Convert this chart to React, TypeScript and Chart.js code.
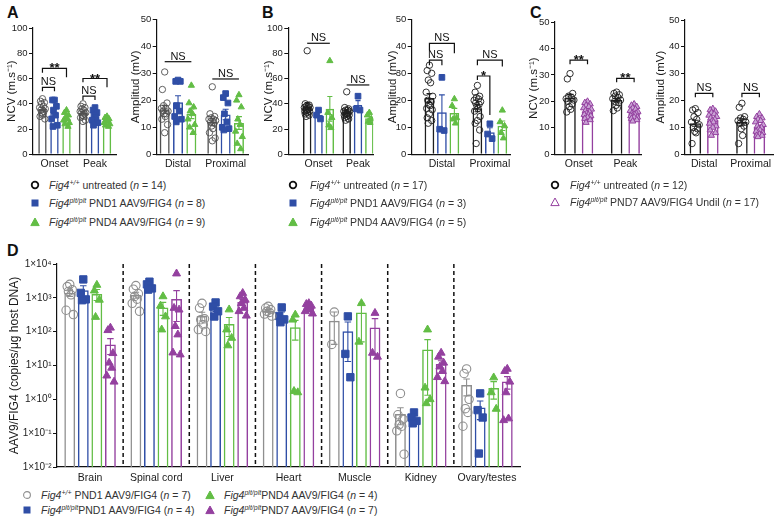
import React, { useEffect, useRef } from "react";
import { Chart, registerables } from "chart.js";

Chart.register(...registerables);

const FONT = "'Liberation Sans', Arial, Helvetica, sans-serif";
Chart.defaults.font.family = FONT;

// ---------------- Categories ----------------
const ncvCategories = ["Onset", "Peak"];
const ampCategories = ["Distal", "Proximal"];
const tissues = ["Brain", "Spinal cord", "Liver", "Heart", "Muscle", "Kidney", "Ovary/testes"];

// ---------------- Panel A (per category: Onset/Peak or Distal/Proximal) ----------------
const aNcvUntreated = [
  [44, 42, 41, 40, 38, 37, 36, 35, 34, 33, 32, 30, 28, 31],
  [40, 38, 37, 36, 35, 34, 33, 33, 32, 31, 30, 29, 27, 26],
];
const aNcvPnd1 = [
  [43, 43, 38, 35, 31, 28, 23, 22],
  [37, 35, 33, 31, 29, 27, 25, 23],
];
const aNcvPnd4 = [
  [35, 33, 31, 29, 28, 27, 25, 24, 22],
  [30, 29, 28, 27, 26, 25, 24, 23, 22],
];
const aAmpUntreated = [
  [30.5, 24, 19, 18, 17, 17, 16, 16, 15, 15, 14, 13, 11, 8],
  [25, 15, 14, 13.5, 13, 13, 12.5, 12, 11.5, 10.5, 9.5, 8, 6, 5],
];
const aAmpPnd1 = [
  [27.5, 27, 27, 18, 16, 14, 13, 12],
  [22.5, 21, 19, 15, 12, 10, 9.5, 9],
];
const aAmpPnd4 = [
  [25.5, 19, 17.5, 16, 15, 13, 11, 10, 8],
  [22, 20, 17.5, 13, 11, 8.5, 6.5, 4, 2],
];

// ---------------- Panel B ----------------
const bNcvUntreated = [
  [82, 40, 39, 38, 38, 37, 37, 36, 36, 35, 35, 34, 34, 33, 32, 31, 30],
  [49.5, 37, 36, 35, 35, 34, 34, 33, 33, 32, 32, 31, 31, 30, 29, 28, 27],
];
const bNcvPnd1 = [
  [35, 31, 28],
  [46, 36, 35],
];
const bNcvPnd4 = [
  [74, 33, 29, 23, 21],
  [33, 31, 28, 26, 25],
];
const bAmpUntreated = [
  [33, 31, 30, 27.5, 26.5, 23, 21.5, 20, 19.5, 18.5, 18, 17, 16.5, 15, 13.5, 12.5, 11.5],
  [25.5, 23, 21.5, 21, 20.5, 20, 19.5, 19, 18.5, 18, 17, 16, 14, 12.5, 11.5, 9, 4],
];
const bAmpPnd1 = [
  [28.5, 9.3, 8.8],
  [11.3, 7.5, 5.8],
];
const bAmpPnd4 = [
  [20.5, 18, 13.5, 13, 11.5],
  [16.3, 12, 10.5, 8, 6],
];

// ---------------- Panel C ----------------
const cNcvUntreated = [
  [30.5, 28.5, 23, 22, 21.5, 21, 20.5, 20, 19, 18, 17, 16],
  [23.5, 23, 22.5, 22, 21.5, 21, 20.5, 20, 19.5, 18.5, 17.5, 16.5],
];
const cNcvPnd7 = [
  [20, 19.5, 19, 18.5, 18, 17.5, 17, 16.5, 16, 15.5, 15, 15, 14.5, 14, 13.5, 13, 12],
  [19, 18.5, 18, 17.5, 17, 16.5, 16, 15.5, 15.5, 15, 15, 14.5, 14, 14, 13.5, 13, 12.5],
];
const cAmpUntreated = [
  [17, 16.5, 15.5, 14, 13, 12, 11, 10, 9.5, 8.5, 8, 4],
  [19, 17.5, 14, 13.5, 13, 12.5, 12, 11.5, 10.5, 9.5, 7, 4],
];
const cAmpPnd7 = [
  [17, 16.5, 16, 15.5, 15, 14.5, 14, 13.5, 13, 12.5, 12, 11.5, 10.5, 10, 9, 8, 7],
  [15, 14, 13.5, 13, 12.5, 12, 11, 10.5, 10, 9.5, 9, 8.5, 8, 7.5, 7, 7, 6.5],
];

// ---------------- Panel D (per tissue) ----------------
const dWtPnd1 = [
  [2500, 2150, 1740, 1550, 1230, 430, 320],
  [2300, 1800, 1320, 1100, 910, 690, 400],
  [690, 500, 240, 225, 160, 115, 102],
  [560, 500, 450, 400, 370, 330, 290],
  [380, 42],
  [1.5, 0.35, 0.26, 0.18, 0.16, 0.117, 0.024],
  [7.9, 5.8, 1.0, 0.53, 0.41, 0.16],
];
const dPltPnd1 = [
  [3500, 1400, 900, 850],
  [3000, 2500, 1900, 1750],
  [730, 550, 400, 280],
  [520, 290, 230, 190],
  [283, 22, 4.5],
  [0.41, 0.29, 0.23, 0.195],
  [1.5, 0.48, 0.29, 0.025],
];
const dPltPnd4 = [
  [2400, 1630, 870, 270],
  [1100, 580, 280, 115],
  [450, 115, 65, 39],
  [316, 225, 1.6, 1.75],
  [690, 50],
  [115, 2.2, 1.0, 0.76],
  [4.4, 1.6, 0.52],
];
const dPltPnd7 = [
  [130, 110, 23, 12, 8.5, 5, 3.3],
  [5200, 500, 445, 145, 82, 24, 21],
  [1380, 1100, 870, 690, 500, 400, 295],
  [690, 650, 580, 500, 445, 400, 340],
  [355, 23.5, 18],
  [23.6, 18, 12, 9.2, 6.8, 4.5, 3.4],
  [7.9, 6.8, 3.3, 1.6, 0.27, 0.24],
];
const logTickValues = [0.01, 0.1, 1, 10, 100, 1000, 10000];
const logTickLabels = ["1×10⁻²", "1×10⁻¹", "1×10⁰", "1×10¹", "1×10²", "1×10³", "1×10⁴"];

// ---------------- Significance annotations ----------------
type Bracket = { cat: number; a: number; b: number; y: number; ya: number; yb: number; text: string };
const aNcvBrackets: Bracket[] = [
  { cat: 0, a: 0, b: 2, y: 68, ya: 64.5, yb: 61, text: "**" },
  { cat: 0, a: 0, b: 1, y: 53, ya: 50, yb: 50, text: "NS" },
  { cat: 1, a: 0, b: 2, y: 60, ya: 57, yb: 53, text: "**" },
  { cat: 1, a: 0, b: 1, y: 46, ya: 43, yb: 43, text: "NS" },
];
const aAmpBrackets: Bracket[] = [
  { cat: 0, a: 0, b: 2, y: 34.3, ya: 34.3, yb: 34.3, text: "NS" },
  { cat: 1, a: 0, b: 2, y: 27.9, ya: 27.9, yb: 27.9, text: "NS" },
];
const bNcvBrackets: Bracket[] = [
  { cat: 0, a: 0, b: 2, y: 87.9, ya: 87.9, yb: 87.9, text: "NS" },
  { cat: 1, a: 0, b: 2, y: 54.9, ya: 54.9, yb: 54.9, text: "NS" },
];
const bAmpBrackets: Bracket[] = [
  { cat: 0, a: 0, b: 2, y: 41.1, ya: 38.6, yb: 37.4, text: "NS" },
  { cat: 0, a: 0, b: 1, y: 34.9, ya: 33, yb: 33, text: "NS" },
  { cat: 1, a: 0, b: 2, y: 34.9, ya: 33, yb: 32.5, text: "NS" },
  { cat: 1, a: 0, b: 1, y: 29, ya: 27.5, yb: 14.6, text: "*" },
];
const cNcvBrackets: Bracket[] = [
  { cat: 0, a: 0, b: 1, y: 35.6, ya: 34, yb: 34, text: "**" },
  { cat: 1, a: 0, b: 1, y: 28.7, ya: 27.2, yb: 27.2, text: "**" },
];
const cAmpBrackets: Bracket[] = [
  { cat: 0, a: 0, b: 1, y: 22.7, ya: 21.2, yb: 21.2, text: "NS" },
  { cat: 1, a: 0, b: 1, y: 22.7, ya: 21.2, yb: 21.2, text: "NS" },
];

// ---------------- Styles ----------------
const GRAY = "#505050";
const BLACK = "#1e1e1e";
const BLUE = "#2f4ea6";
const GREEN = "#62bd45";
const PURPLE = "#94409f";
const PURPLE_LIGHT = "#c9a3d5";
const GRAY_D = "#8f8f8f";
const JITTER = [0, -0.55, 0.55, -0.28, 0.28, -0.8, 0.8, -0.42, 0.42, -0.14, 0.14, -0.68, 0.68, 0, -0.55, 0.55, -0.3];

type Series = {
  data: number[][];
  barColor: string;
  pointStyle: string;
  pointFill: string;
  pointBorder: string;
  radius: number;
  pointBorderWidth?: number;
};

type Spec = {
  rect: [number, number, number, number];
  yAxisW: number;
  xAxisH: number;
  padRight: number;
  xMin: number;
  xMax: number;
  cats: string[];
  series: Series[];
  yType: "linear" | "logarithmic";
  yMin: number;
  yMax: number;
  yStep?: number;
  yTitle: string;
  cp: number;
  bp: number;
  brackets: Bracket[];
  separators?: boolean;
  catFont: number;
  catPad: number;
  tickFont: number;
  titleFont: number;
};

const mean = (a: number[]) => a.reduce((s, v) => s + v, 0) / a.length;
const sem = (a: number[]) => {
  if (a.length < 2) return 0;
  const m = mean(a);
  const v = a.reduce((s, x) => s + (x - m) * (x - m), 0) / (a.length - 1);
  return Math.sqrt(v / a.length);
};

const untreatedABC = (data: number[][], col: string): Series => ({
  data, barColor: col, pointStyle: "circle", pointFill: "rgba(255,255,255,0)", pointBorder: col, radius: 3.2, pointBorderWidth: 0.9,
});
const pnd1ABC = (data: number[][]): Series => ({ data, barColor: BLUE, pointStyle: "rect", pointFill: BLUE, pointBorder: BLUE, radius: 4 });
const pnd4ABC = (data: number[][]): Series => ({ data, barColor: GREEN, pointStyle: "triangle", pointFill: GREEN, pointBorder: GREEN, radius: 3.6 });
const pnd7C = (data: number[][]): Series => ({ data, barColor: PURPLE, pointStyle: "triangle", pointFill: PURPLE_LIGHT, pointBorder: PURPLE, radius: 3.6, pointBorderWidth: 1 });

const NCV_TITLE = "NCV (m.s⁻¹)";
const AMP_TITLE = "Amplitud (mV)";

const base = { xAxisH: 18, padRight: 8, catFont: 10.5, catPad: 3.5, tickFont: 9.5, titleFont: 11.5, yType: "linear" as const, yMin: 0 };

const specs: Spec[] = [
  { ...base, rect: [33, 28, 116.7, 154.3], yAxisW: 33, xMin: -0.53, xMax: 1.536, cats: ncvCategories, yMax: 100, yStep: 20, yTitle: NCV_TITLE, cp: 0.89, bp: 0.7,
    series: [untreatedABC(aNcvUntreated, GRAY), pnd1ABC(aNcvPnd1), pnd4ABC(aNcvPnd4)], brackets: aNcvBrackets },
  { ...base, rect: [156.7, 19.3, 248, 154.3], yAxisW: 33, xMin: -0.448, xMax: 1.47, cats: ampCategories, yMax: 50, yStep: 10, yTitle: AMP_TITLE, cp: 0.84, bp: 0.75,
    series: [untreatedABC(aAmpUntreated, GRAY), pnd1ABC(aAmpPnd1), pnd4ABC(aAmpPnd4)], brackets: aAmpBrackets },
  { ...base, rect: [288.3, 28, 373.3, 154.3], yAxisW: 31, xMin: -0.765, xMax: 1.387, cats: ncvCategories, yMax: 100, yStep: 20, yTitle: NCV_TITLE, cp: 0.86, bp: 0.75,
    series: [untreatedABC(bNcvUntreated, BLACK), pnd1ABC(bNcvPnd1), pnd4ABC(bNcvPnd4)], brackets: bNcvBrackets },
  { ...base, rect: [411.7, 19.3, 510, 154.3], yAxisW: 31, xMin: -0.63, xMax: 1.42, cats: ampCategories, yMax: 50, yStep: 10, yTitle: AMP_TITLE, cp: 0.78, bp: 0.78,
    series: [untreatedABC(bAmpUntreated, BLACK), pnd1ABC(bAmpPnd1), pnd4ABC(bAmpPnd4)], brackets: bAmpBrackets },
  { ...base, rect: [555, 22, 641.7, 154.3], yAxisW: 33, xMin: -0.51, xMax: 1.35, cats: ncvCategories, yMax: 50, yStep: 10, yTitle: NCV_TITLE, cp: 0.75, bp: 0.66,
    series: [untreatedABC(cNcvUntreated, BLACK), pnd7C(cNcvPnd7)], brackets: cNcvBrackets },
  { ...base, rect: [685, 20, 773, 154.3], yAxisW: 36, padRight: 5, xMin: -0.41, xMax: 1.48, cats: ampCategories, yMax: 50, yStep: 10, yTitle: AMP_TITLE, cp: 0.75, bp: 0.66,
    series: [untreatedABC(cAmpUntreated, BLACK), pnd7C(cAmpPnd7)], brackets: cAmpBrackets },
  { ...base, rect: [57, 264, 520, 467], yAxisW: 55, xMin: -0.5, xMax: 6.5, cats: tissues, yType: "logarithmic", yMin: 0.01, yMax: 10000,
    yTitle: "AAV9/FIG4 (copies/μg host DNA)", titleFont: 12, tickFont: 10, catPad: 4.5, cp: 0.82, bp: 0.8, separators: true, brackets: [],
    series: [
      { data: dWtPnd1, barColor: GRAY_D, pointStyle: "circle", pointFill: "rgba(255,255,255,0)", pointBorder: GRAY_D, radius: 4.2, pointBorderWidth: 1.1 },
      { data: dPltPnd1, barColor: BLUE, pointStyle: "rect", pointFill: BLUE, pointBorder: BLUE, radius: 5.2 },
      { data: dPltPnd4, barColor: GREEN, pointStyle: "triangle", pointFill: GREEN, pointBorder: GREEN, radius: 4.6 },
      { data: dPltPnd7, barColor: PURPLE, pointStyle: "triangle", pointFill: PURPLE, pointBorder: PURPLE, radius: 4.6 },
    ] },
];

// ---------------- Plugins ----------------
const errorBarPlugin = {
  id: "errorBars",
  afterDatasetDraw(chart: any, args: any) {
    const ds = chart.data.datasets[args.index];
    if (!ds.sem) return;
    const ctx = chart.ctx;
    const ys = chart.scales.y;
    ctx.save();
    ctx.strokeStyle = ds.borderColor;
    ctx.lineWidth = 1.1;
    args.meta.data.forEach((el: any, i: number) => {
      const s = ds.sem[i];
      if (!s) return;
      const m = ds.data[i].y;
      const cap = el.width * 0.3;
      const top = ys.getPixelForValue(m + s);
      const low = m - s > ys.min ? ys.getPixelForValue(m - s) : null;
      ctx.beginPath();
      ctx.moveTo(el.x, top);
      ctx.lineTo(el.x, low !== null ? low : el.y);
      ctx.moveTo(el.x - cap, top);
      ctx.lineTo(el.x + cap, top);
      if (low !== null) {
        ctx.moveTo(el.x - cap, low);
        ctx.lineTo(el.x + cap, low);
      }
      ctx.stroke();
    });
    ctx.restore();
  },
};

const bracketPlugin = {
  id: "brackets",
  afterDatasetsDraw(chart: any, _args: any, opts: any) {
    const list: Bracket[] = (opts && opts.list) || [];
    const ctx = chart.ctx;
    const ys = chart.scales.y;
    list.forEach((b) => {
      const xa = chart.getDatasetMeta(b.a).data[b.cat].x;
      const xb = chart.getDatasetMeta(b.b).data[b.cat].x;
      const y = ys.getPixelForValue(b.y);
      const ya = ys.getPixelForValue(b.ya);
      const yb = ys.getPixelForValue(b.yb);
      ctx.save();
      ctx.strokeStyle = "#111";
      ctx.lineWidth = 1.2;
      ctx.beginPath();
      ctx.moveTo(xa, ya);
      ctx.lineTo(xa, y);
      ctx.lineTo(xb, y);
      ctx.lineTo(xb, yb);
      ctx.stroke();
      const star = b.text.indexOf("*") >= 0;
      ctx.fillStyle = "#111";
      ctx.font = star ? `bold 13px ${FONT}` : `11px ${FONT}`;
      ctx.textAlign = "center";
      ctx.textBaseline = "alphabetic";
      ctx.fillText(b.text, (xa + xb) / 2, star ? y + 4 : y - 2);
      ctx.restore();
    });
  },
};

const separatorPlugin = {
  id: "separators",
  beforeDatasetsDraw(chart: any, _args: any, opts: any) {
    if (!opts || !opts.count) return;
    const ctx = chart.ctx;
    const { top, bottom } = chart.chartArea;
    ctx.save();
    ctx.strokeStyle = "#111";
    ctx.lineWidth = 1.5;
    ctx.setLineDash([4, 3]);
    for (let i = 0; i < opts.count - 1; i++) {
      const x = chart.scales.x.getPixelForValue(i + 0.5);
      ctx.beginPath();
      ctx.moveTo(x, top);
      ctx.lineTo(x, bottom);
      ctx.stroke();
    }
    ctx.restore();
  },
};

// ---------------- Chart panel ----------------
function ChartPanel({ spec }: { spec: Spec }) {
  const ref = useRef<HTMLCanvasElement>(null);
  const [L, T, R, B] = spec.rect;
  const cLeft = Math.round(L - spec.yAxisW);
  const cTop = Math.round(T - 10);
  const width = Math.round(R + spec.padRight - cLeft);
  const height = Math.round(B + spec.xAxisH - cTop);
  const yW = L - cLeft;
  const padTop = T - cTop;
  const padRight = width - (R - cLeft);
  const xH = height - (B - cTop);

  useEffect(() => {
    const k = spec.series.length;
    const slot = spec.cp / k;
    const barW = slot * spec.bp;
    const datasets: any[] = [];
    spec.series.forEach((s) => {
      datasets.push({
        type: "bar",
        data: s.data.map((pts, i) => ({ x: i, y: mean(pts) })),
        sem: s.data.map(sem),
        backgroundColor: "rgba(255,255,255,0)",
        borderColor: s.barColor,
        borderWidth: 1.5,
        categoryPercentage: spec.cp,
        barPercentage: spec.bp,
        order: 2,
      });
    });
    spec.series.forEach((s, j) => {
      const off = -spec.cp / 2 + (j + 0.5) * slot;
      const pts: { x: number; y: number }[] = [];
      s.data.forEach((arr, i) =>
        arr.forEach((v, n) => pts.push({ x: i + off + JITTER[n % JITTER.length] * barW * 0.42, y: v }))
      );
      datasets.push({
        type: "scatter",
        data: pts,
        pointStyle: s.pointStyle,
        pointRadius: s.radius,
        pointHoverRadius: s.radius,
        pointBackgroundColor: s.pointFill,
        pointBorderColor: s.pointBorder,
        pointBorderWidth: s.pointBorderWidth ?? 1,
        order: 0,
      });
    });

    const yScale: any = {
      type: spec.yType,
      min: spec.yMin,
      max: spec.yMax,
      border: { display: true, color: "#111", width: 1.2 },
      grid: { display: true, drawOnChartArea: false, drawTicks: true, tickLength: 4, color: "#111", lineWidth: 1 },
      ticks: { font: { size: spec.tickFont }, color: "#222", padding: 1.5 },
      title: { display: true, text: spec.yTitle, font: { size: spec.titleFont }, color: "#1a1a1a", padding: { top: 5, bottom: 0 } },
      afterFit: (sc: any) => {
        sc.width = yW;
      },
    };
    if (spec.yType === "logarithmic") {
      yScale.afterBuildTicks = (sc: any) => {
        sc.ticks = logTickValues.map((v) => ({ value: v, major: true }));
      };
      yScale.ticks.callback = (v: number) => {
        const idx = logTickValues.findIndex((t) => Math.abs(t - v) / t < 1e-6);
        return idx >= 0 ? logTickLabels[idx] : "";
      };
      yScale.ticks.autoSkip = false;
    } else {
      yScale.ticks.stepSize = spec.yStep;
    }

    const chart = new Chart(ref.current as HTMLCanvasElement, {
      type: "bar",
      data: { datasets } as any,
      options: {
        responsive: false,
        maintainAspectRatio: false,
        animation: false,
        events: [],
        layout: { padding: { top: padTop, right: padRight, left: 0, bottom: 0 } },
        scales: {
          x: {
            type: "linear",
            min: spec.xMin,
            max: spec.xMax,
            offset: false,
            bounds: "data",
            border: { display: true, color: "#111", width: 1.2 },
            grid: { display: false, drawTicks: false },
            ticks: {
              autoSkip: false,
              maxRotation: 0,
              font: { size: spec.catFont },
              color: "#1a1a1a",
              padding: spec.catPad,
              callback: (v: any) => (spec.cats[v] !== undefined ? spec.cats[v] : ""),
            },
            afterBuildTicks: (sc: any) => {
              sc.ticks = spec.cats.map((_, i) => ({ value: i }));
            },
            afterFit: (sc: any) => {
              sc.height = xH;
            },
          } as any,
          y: yScale,
        },
        plugins: {
          legend: { display: false },
          tooltip: { enabled: false },
          brackets: { list: spec.brackets },
          separators: { count: spec.separators ? spec.cats.length : 0 },
        } as any,
      },
      plugins: [errorBarPlugin, bracketPlugin, separatorPlugin],
    });
    return () => chart.destroy();
  }, []);

  return (
    <canvas
      ref={ref}
      width={width}
      height={height}
      style={{ position: "absolute", left: cLeft, top: cTop, width, height }}
    />
  );
}

// ---------------- Legend helpers ----------------
function Marker({ kind, color, fill }: { kind: string; color: string; fill?: string }) {
  let shape: any = null;
  if (kind === "circle") shape = <circle cx="5" cy="5" r="3.3" fill="none" stroke={color} strokeWidth="1.8" />;
  if (kind === "circleThin") shape = <circle cx="5" cy="5" r="3.4" fill="none" stroke={color} strokeWidth="1.1" />;
  if (kind === "square") shape = <rect x="1.5" y="1.5" width="7" height="7" fill={color} />;
  if (kind === "triangle") shape = <polygon points="5,1 9.2,8.6 0.8,8.6" fill={fill || color} stroke={color} strokeWidth="1" />;
  return (
    <svg width="10" height="10" viewBox="0 0 10 10" style={{ position: "absolute", left: 0, top: 0 }}>
      {shape}
    </svg>
  );
}

const Sup = ({ t }: { t: string }) => (
  <i style={{ fontSize: 7, position: "relative", top: -4, fontWeight: 400 }}>{t}</i>
);

function LegendRow({ mx, tx, y, marker, children }: { mx: number; tx: number; y: number; marker: any; children: any }) {
  return (
    <>
      <div style={{ position: "absolute", left: mx - 5, top: y - 5, width: 10, height: 10 }}>{marker}</div>
      <div
        style={{
          position: "absolute",
          left: tx,
          top: y - 7,
          fontSize: 10.5,
          fontWeight: 400,
          lineHeight: "14px",
          whiteSpace: "nowrap",
          color: "#333",
        }}
      >
        {children}
      </div>
    </>
  );
}

const Letter = ({ x, y, t }: { x: number; y: number; t: string }) => (
  <div style={{ position: "absolute", left: x, top: y, fontSize: 16, fontWeight: "bold", lineHeight: "16px", color: "#111" }}>{t}</div>
);

export default function App() {
  return (
    <div
      style={{
        position: "absolute",
        left: 0,
        top: 0,
        width: 780,
        height: 523,
        overflow: "hidden",
        background: "#fff",
        fontFamily: FONT,
      }}
    >
      <Letter x={7} y={5} t="A" />
      <Letter x={262} y={5} t="B" />
      <Letter x={530} y={5} t="C" />
      <Letter x={7} y={243} t="D" />
      {specs.map((s, i) => (
        <ChartPanel key={i} spec={s} />
      ))}

      {/* Legend A */}
      <LegendRow mx={35} tx={49} y={185} marker={<Marker kind="circle" color="#111" />}>
        <i>Fig4</i><Sup t="+/+" /> untreated (<i>n</i> = 14)
      </LegendRow>
      <LegendRow mx={35} tx={49} y={203} marker={<Marker kind="square" color={BLUE} />}>
        <i>Fig4</i><Sup t="plt/plt" /> PND1 AAV9/FIG4 (<i>n</i> = 8)
      </LegendRow>
      <LegendRow mx={35} tx={49} y={222} marker={<Marker kind="triangle" color={GREEN} />}>
        <i>Fig4</i><Sup t="plt/plt" /> PND4 AAV9/FIG4 (<i>n</i> = 9)
      </LegendRow>

      {/* Legend B */}
      <LegendRow mx={293} tx={310} y={185} marker={<Marker kind="circle" color="#111" />}>
        <i>Fig4</i><Sup t="+/+" /> untreated (<i>n</i> = 17)
      </LegendRow>
      <LegendRow mx={293} tx={310} y={203} marker={<Marker kind="square" color={BLUE} />}>
        <i>Fig4</i><Sup t="plt/plt" /> PND1 AAV9/FIG4 (<i>n</i> = 3)
      </LegendRow>
      <LegendRow mx={293} tx={310} y={222} marker={<Marker kind="triangle" color={GREEN} />}>
        <i>Fig4</i><Sup t="plt/plt" /> PND4 AAV9/FIG4 (<i>n</i> = 5)
      </LegendRow>

      {/* Legend C */}
      <LegendRow mx={555} tx={570} y={185} marker={<Marker kind="circle" color="#111" />}>
        <i>Fig4</i><Sup t="+/+" /> untreated (<i>n</i> = 12)
      </LegendRow>
      <LegendRow mx={555} tx={570} y={202} marker={<Marker kind="triangle" color={PURPLE} fill="#fff" />}>
        <i>Fig4</i><Sup t="plt/plt" /> PND7 AAV9/FIG4 Undil (<i>n</i> = 17)
      </LegendRow>

      {/* Legend D */}
      <LegendRow mx={27} tx={41} y={495} marker={<Marker kind="circleThin" color={GRAY_D} />}>
        <i>Fig4</i><Sup t="+/+" /> PND1 AAV9/FIG4 (<i>n</i> = 7)
      </LegendRow>
      <LegendRow mx={27} tx={41} y={510} marker={<Marker kind="square" color={BLUE} />}>
        <i>Fig4</i><Sup t="plt/plt" />PND1 AAV9/FIG4 (<i>n</i> = 4)
      </LegendRow>
      <LegendRow mx={210} tx={224} y={495} marker={<Marker kind="triangle" color={GREEN} />}>
        <i>Fig4</i><Sup t="plt/plt" />PND4 AAV9/FIG4 (<i>n</i> = 4)
      </LegendRow>
      <LegendRow mx={210} tx={224} y={510} marker={<Marker kind="triangle" color={PURPLE} />}>
        <i>Fig4</i><Sup t="plt/plt" />PND7 AAV9/FIG4 (<i>n</i> = 7)
      </LegendRow>
    </div>
  );
}
